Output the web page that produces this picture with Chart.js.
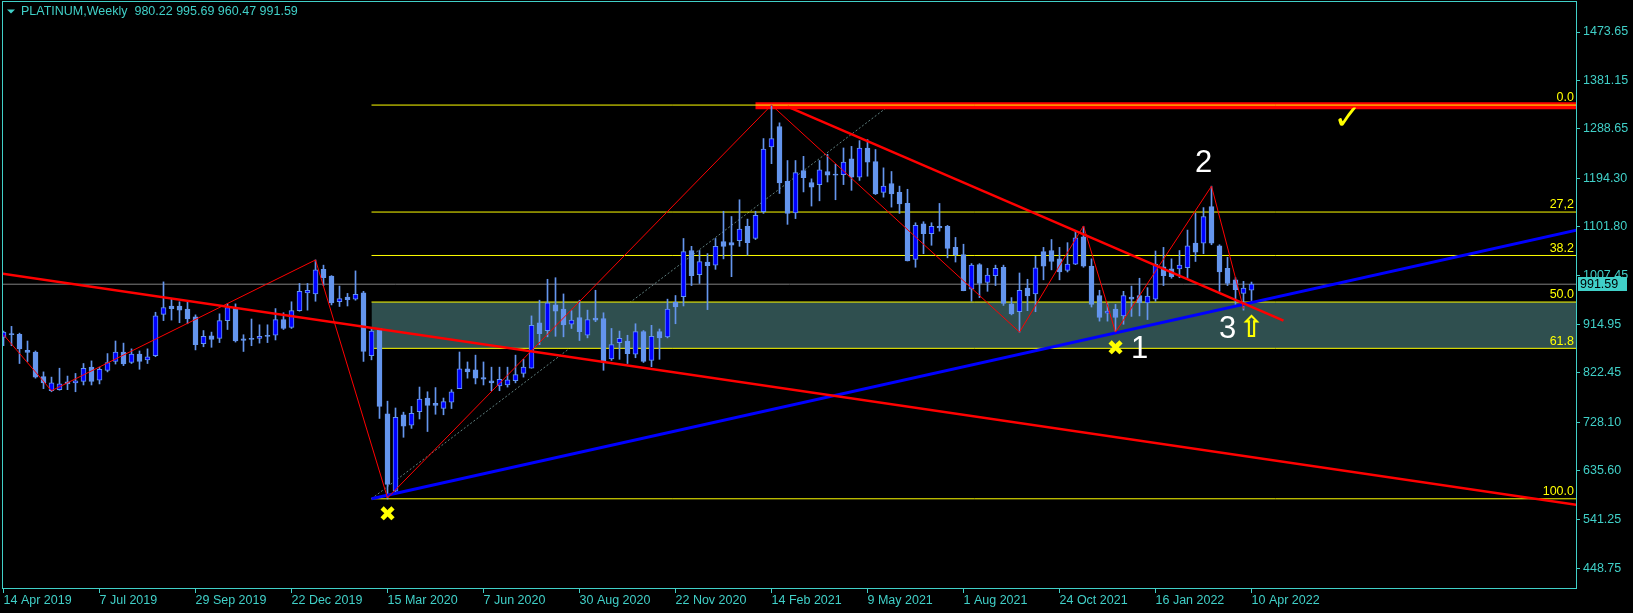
<!DOCTYPE html>
<html>
<head>
<meta charset="utf-8">
<script src="https://cdn.jsdelivr.net/npm/chart.js@4.4.0/dist/chart.umd.min.js"></script>
<style>
  html, body { margin: 0; padding: 0; background: #000; }
  canvas { display: block; }
</style>
</head>
<body>
<canvas id="platChart" width="1633" height="613"></canvas>
<script>
// weekly candles, bar 0 = week of 14 Apr 2019
let candleOpen = [
  890, 897, 896, 865, 862, 815, 788, 790, 805, 803,
  806, 833, 808, 827, 844, 862, 842, 858, 847, 855,
  934, 950, 950, 944, 929, 878, 893, 888, 922, 946,
  887, 888, 888, 894, 894, 924, 909, 941, 975, 973,
  1020, 1007, 958, 967, 963, 975, 855, 907, 744, 596,
  742, 722, 748, 774, 764, 754, 766, 792, 830, 828,
  813, 807, 797, 799, 807, 821, 831, 918, 903, 952,
  944, 915, 928, 894, 927, 926, 849, 880, 883, 858,
  901, 846, 901, 891, 957, 968, 1056, 1010, 1034, 1028,
  1073, 1071, 1075, 1102, 1079, 1130, 1254, 1293, 1188, 1128,
  1209, 1186, 1182, 1207, 1202, 1201, 1231, 1196, 1252, 1226,
  1167, 1184, 1167, 1146, 1039, 1107, 1088, 1102, 1102, 1062,
  1048, 982, 1029, 995, 1008, 1024, 954, 939, 984, 973,
  1054, 1056, 1040, 1018, 1030, 1082, 1026, 970, 936, 944,
  931, 967, 970, 956, 963, 1025, 1021, 1021, 1023, 1070,
  1070, 1140, 1065, 1022, 1000, 974, 980.22
];
let candleHigh = [
  902, 911, 898, 883, 864, 824, 814, 831, 816, 821,
  840, 845, 833, 859, 883, 879, 868, 864, 868, 938,
  996, 963, 958, 957, 933, 903, 900, 935, 954, 954,
  895, 925, 914, 914, 945, 937, 958, 993, 993, 1038,
  1028, 1008, 988, 974, 1017, 978, 907, 907, 768, 755,
  747, 758, 795, 786, 794, 774, 790, 862, 843, 856,
  843, 833, 833, 833, 856, 848, 931, 961, 1001, 1004,
  973, 941, 961, 942, 980, 937, 907, 902, 894, 916,
  903, 913, 906, 963, 970, 1079, 1064, 1056, 1050, 1079,
  1131, 1121, 1153, 1116, 1131, 1270, 1334, 1300, 1228, 1228,
  1236, 1193, 1228, 1240, 1221, 1252, 1255, 1266, 1268, 1249,
  1214, 1207, 1179, 1173, 1109, 1111, 1109, 1146, 1104, 1081,
  1068, 1031, 1031, 1022, 1028, 1028, 966, 1013, 1001, 1045,
  1062, 1077, 1062, 1071, 1094, 1102, 1040, 980, 955, 953,
  978, 988, 1003, 985, 1055, 1062, 1040, 1056, 1095, 1127,
  1138, 1179, 1067, 1043, 1004, 997, 995.69
];
let candleLow = [
  874, 874, 840, 844, 812, 792, 786, 789, 790, 786,
  799, 799, 801, 824, 839, 836, 840, 829, 840, 853,
  922, 923, 918, 916, 866, 872, 871, 880, 905, 881,
  863, 874, 879, 880, 885, 905, 907, 940, 942, 959,
  989, 952, 949, 950, 961, 844, 847, 735, 581, 592,
  699, 716, 734, 710, 743, 742, 754, 792, 812, 801,
  799, 788, 788, 795, 803, 814, 831, 876, 891, 892,
  891, 907, 884, 889, 920, 827, 846, 848, 840, 851,
  842, 834, 848, 889, 916, 950, 989, 993, 943, 1020,
  1040, 1006, 1064, 1047, 1077, 1127, 1222, 1165, 1106, 1117,
  1168, 1141, 1151, 1187, 1153, 1182, 1171, 1190, 1198, 1163,
  1158, 1139, 1127, 1036, 1024, 1050, 1066, 1093, 1042, 1034,
  979, 959, 966, 978, 989, 951, 933, 900, 941, 939,
  1000, 1019, 1000, 1015, 1029, 1024, 948, 921, 921, 900,
  915, 930, 931, 924, 959, 989, 1003, 1004, 1003, 1035,
  1050, 1067, 978, 989, 953, 942, 960.47
];
let candleClose = [
  900, 895, 868, 861, 814, 803, 803, 801, 801, 807,
  831, 806, 829, 842, 862, 839, 858, 844, 853, 931,
  947, 945, 942, 925, 876, 892, 886, 922, 947, 883,
  884, 886, 892, 892, 924, 907, 941, 978, 980, 1019,
  1004, 956, 964, 962, 972, 863, 902, 758, 609, 737,
  720, 745, 772, 760, 760, 767, 786, 830, 824, 812,
  810, 803, 810, 809, 819, 833, 913, 897, 956, 940,
  914, 923, 901, 924, 923, 842, 876, 888, 859, 901,
  844, 892, 889, 944, 948, 1054, 1008, 1035, 1027, 1064,
  1064, 1066, 1097, 1071, 1123, 1250, 1270, 1185, 1127, 1205,
  1195, 1177, 1210, 1200, 1200, 1225, 1196, 1252, 1225, 1164,
  1179, 1164, 1145, 1036, 1104, 1088, 1102, 1099, 1060, 1048,
  979, 1028, 993, 1009, 1022, 955, 935, 980, 969, 1023,
  1026, 1035, 1015, 1030, 1080, 1026, 953, 928, 940, 928,
  970, 963, 956, 969, 1030, 1008, 1006, 1028, 1065, 1053,
  1121, 1070, 1015, 993, 981, 984, 991.59
];

let dateIdx = [0, 12, 24, 36, 48, 60, 72, 84, 96, 108, 120, 132, 144, 156];
let dateLabels = ["14 Apr 2019", "7 Jul 2019", "29 Sep 2019", "22 Dec 2019", "15 Mar 2020",
  "7 Jun 2020", "30 Aug 2020", "22 Nov 2020", "14 Feb 2021", "9 May 2021",
  "1 Aug 2021", "24 Oct 2021", "16 Jan 2022", "10 Apr 2022"];
let yTickValues = [448.75, 541.25, 635.60, 728.10, 822.45, 914.95, 1007.45, 1101.80, 1194.30, 1288.65, 1381.15, 1473.65];

// fibonacci retracement drawn from the Mar 2020 low to the Feb 2021 high
let fibLabels = ["0.0", "27,2", "38.2", "50.0", "61.8", "100.0"];
let fibPrices = [1334.0, 1129.5, 1046.5, 957.5, 869.0, 581.4];
let fibStart = 46;

// drawn lines: [x0, x1] bar index, [y0, y1] price
let zigzagX = [0, 6, 39, 48, 96, 127, 135, 139, 151, 155];
let zigzagY = [895, 788, 1038, 583, 1334, 900, 1103, 900, 1179, 945];
let longTrendX = [-1, 198];
let longTrendY = [1013.7, 566.9];
let blueTrendX = [46, 198];
let blueTrendY = [581.4, 1099.7];
let neckX = [98, 160];
let neckY = [1331, 922];
let fibDiagX = [46, 110.8];
let fibDiagY = [581.4, 1334];
let resistX = [94, 198];
let resistPrice = 1332.5;

// text marks on the chart
let noteText = ["\u2716", "\u2716", "1", "2", "3", "\u21e7", "\u2713"];
let noteIdx = [48, 139, 142, 150, 153, 156, 168];
let notePrice = [549, 867, 867, 1223, 906, 906, 1305];

let symbolTitle = "PLATINUM,Weekly  980.22 995.69 960.47 991.59";
let lastPrice = 991.59;

const teal = "#40d0c8";
const wickColor = "#6495ed";
const bullFill = "#0000ff";
const fibColor = "#ffff00";
const uiFont = '"Liberation Sans", Arial, sans-serif';
const xMin = -0.0625, xMax = 196.5625;

function lineSet(xs, ys, color, width, order, extra) {
  return Object.assign({
    type: "line",
    data: xs.map((x, i) => ({ x: x, y: ys[i] })),
    borderColor: color,
    borderWidth: width,
    pointRadius: 0,
    fill: false,
    tension: 0,
    clip: 0,
    order: order
  }, extra || {});
}

let datasets = [];
datasets.push(lineSet(zigzagX, zigzagY, "#ff0000", 1, 0));
datasets.push(lineSet(longTrendX, longTrendY, "#ff0000", 2.5, 0));
datasets.push(lineSet(neckX, neckY, "#ff0000", 2.5, 0));
datasets.push(lineSet(blueTrendX, blueTrendY, "#0000ff", 3, 0));

datasets.push({
  type: "bar",
  order: 1,
  grouped: false,
  data: candleOpen.map((o, i) => ({ x: i, y: [o, candleClose[i]] })),
  backgroundColor: candleOpen.map((o, i) => candleClose[i] >= o ? bullFill : wickColor),
  borderColor: wickColor,
  borderWidth: 1,
  borderSkipped: false,
  barThickness: 5,
  minBarLength: 1
});
datasets.push({
  type: "bar",
  order: 2,
  grouped: false,
  data: candleHigh.map((h, i) => ({ x: i, y: [candleLow[i], h] })),
  backgroundColor: wickColor,
  borderWidth: 0,
  barThickness: 1
});

for (let i = 0; i < fibPrices.length; i++) {
  datasets.push(lineSet([fibStart, xMax + 2], [fibPrices[i], fibPrices[i]], fibColor, 1, 3));
}
datasets.push(lineSet(resistX, [resistPrice, resistPrice], "#ff0000", 7, 4, { borderCapStyle: "butt" }));
// shaded golden zone between 50.0 and 61.8
datasets.push(lineSet([fibStart, xMax + 2], [fibPrices[3], fibPrices[3]], "rgba(0,0,0,0)", 0, 5,
  { fill: "+1", backgroundColor: "#2f4f4f" }));
datasets.push(lineSet([fibStart, xMax + 2], [fibPrices[4], fibPrices[4]], "rgba(0,0,0,0)", 0, 5));
datasets.push(lineSet(fibDiagX, fibDiagY, "#5f7f7f", 1, 6, { borderDash: [2, 2] }));
datasets.push(lineSet([xMin - 1, xMax + 1], [lastPrice, lastPrice], "#808080", 1, 7));

const overlay = {
  id: "overlay",
  afterDatasetsDraw(chart) {
    const ctx = chart.ctx;
    const xs = chart.scales.x, ys = chart.scales.y;
    const area = chart.chartArea;
    ctx.save();
    // fib level captions
    ctx.font = "12.5px " + uiFont;
    ctx.fillStyle = fibColor;
    ctx.textAlign = "right";
    ctx.textBaseline = "bottom";
    for (let i = 0; i < fibLabels.length; i++) {
      ctx.fillText(fibLabels[i], area.right - 2, ys.getPixelForValue(fibPrices[i]) - 1);
    }
    // marks
    ctx.textAlign = "center";
    ctx.textBaseline = "middle";
    for (let i = 0; i < noteText.length; i++) {
      let t = noteText[i];
      if (t === "\u2716") { ctx.font = "21px 'DejaVu Sans'"; ctx.fillStyle = fibColor; }
      else if (t === "\u21e7") { ctx.font = "bold 30px 'DejaVu Sans'"; ctx.fillStyle = fibColor; }
      else if (t === "\u2713") { ctx.font = "bold 34px 'DejaVu Sans'"; ctx.fillStyle = fibColor; }
      else { ctx.font = "31px " + uiFont; ctx.fillStyle = "#ffffff"; }
      ctx.fillText(t, xs.getPixelForValue(noteIdx[i]), ys.getPixelForValue(notePrice[i]));
    }
    ctx.restore();
  },
  afterDraw(chart) {
    const ctx = chart.ctx;
    const ys = chart.scales.y;
    const area = chart.chartArea;
    ctx.save();
    ctx.strokeStyle = teal;
    ctx.lineWidth = 1;
    ctx.strokeRect(area.left - 0.5, area.top - 0.5, area.right - area.left + 1, area.bottom - area.top);
    // title
    ctx.fillStyle = teal;
    ctx.beginPath();
    ctx.moveTo(7, 9.5);
    ctx.lineTo(15, 9.5);
    ctx.lineTo(11, 13.5);
    ctx.closePath();
    ctx.fill();
    ctx.font = "12.5px " + uiFont;
    ctx.textBaseline = "middle";
    ctx.textAlign = "left";
    ctx.fillText(symbolTitle, 21, 12);
    // last price tag
    let py = ys.getPixelForValue(lastPrice);
    ctx.fillRect(area.right + 2, Math.round(py) - 7, 49, 14);
    ctx.fillStyle = "#000000";
    ctx.fillText(lastPrice.toFixed(2), area.right + 4, py + 0.5);
    ctx.restore();
  }
};

new Chart("platChart", {
  type: "bar",
  data: { datasets: datasets },
  options: {
    responsive: false,
    animation: false,
    events: [],
    layout: { padding: { left: 3, top: 2, right: 0, bottom: 0 } },
    plugins: { legend: { display: false }, tooltip: { enabled: false } },
    scales: {
      x: {
        type: "linear",
        min: xMin,
        max: xMax,
        offset: false,
        afterBuildTicks: (scale) => { scale.ticks = dateIdx.map(v => ({ value: v })); },
        afterFit: (scale) => { scale.height = 24; scale.paddingLeft = 0; scale.paddingRight = 0; },
        grid: { drawOnChartArea: false, offset: false, tickLength: 4, color: teal },
        border: { display: false },
        ticks: {
          autoSkip: false, maxRotation: 0, minRotation: 0, align: "start", padding: 0,
          color: teal, font: { family: uiFont, size: 12.5 },
          callback: (v) => dateLabels[dateIdx.indexOf(v)]
        }
      },
      y: {
        position: "right",
        min: 409.0,
        max: 1531.0,
        afterBuildTicks: (scale) => { scale.ticks = yTickValues.map(v => ({ value: v })); },
        afterFit: (scale) => { scale.width = 57; scale.paddingTop = 0; scale.paddingBottom = 0; },
        grid: { drawOnChartArea: false, tickLength: 4, color: teal },
        border: { display: false },
        ticks: {
          padding: 3, color: teal, font: { family: uiFont, size: 12.5 },
          callback: (v) => Number(v).toFixed(2)
        }
      }
    }
  },
  plugins: [overlay]
});
</script>
</body>
</html>
